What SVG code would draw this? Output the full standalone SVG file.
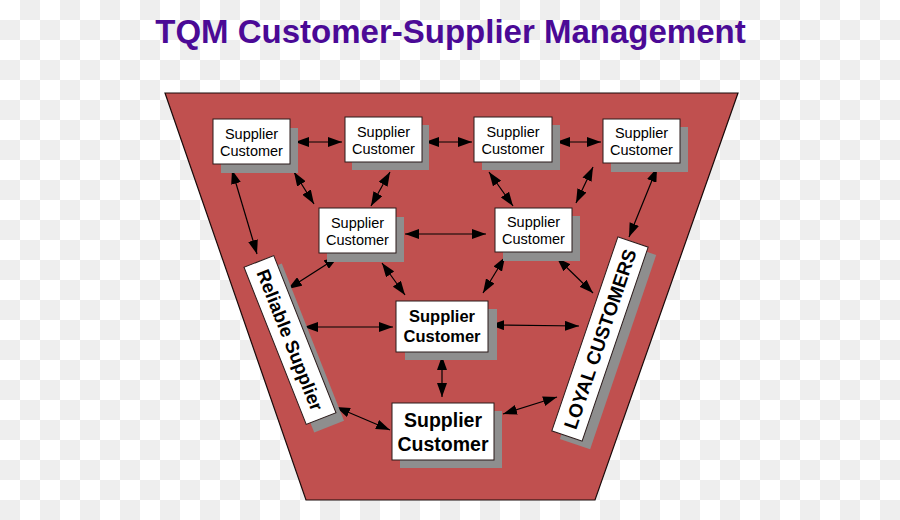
<svg xmlns="http://www.w3.org/2000/svg" width="900" height="520" viewBox="0 0 900 520">
<style>
.title{font-family:"Liberation Sans",Arial,sans-serif;font-weight:bold;font-size:33px;fill:#4b0a96}
.box{fill:#ffffff;stroke:#2a1a1a;stroke-width:1}
.shadow{fill:#8e8e8e}
.t1{font-family:"Liberation Sans",Arial,sans-serif;font-size:14.5px;fill:#000;text-anchor:middle}
.t2{font-family:"Liberation Sans",Arial,sans-serif;font-size:16.5px;font-weight:bold;fill:#000;text-anchor:middle}
.t3{font-family:"Liberation Sans",Arial,sans-serif;font-size:19.5px;font-weight:bold;fill:#000;text-anchor:middle}
.t4{font-family:"Liberation Sans",Arial,sans-serif;font-size:18.5px;font-weight:bold;fill:#000;text-anchor:middle}
.conn line{stroke:#000;stroke-width:1.2;marker-start:url(#ah);marker-end:url(#ah)}
</style>
<defs>
<pattern id="chk" width="40" height="40" patternUnits="userSpaceOnUse">
<rect width="40" height="40" fill="#ffffff"/>
<rect x="20" y="0" width="20" height="20" fill="#eeeeee"/>
<rect x="0" y="20" width="20" height="20" fill="#eeeeee"/>
</pattern>
<marker id="ah" viewBox="0 0 14 10" refX="14" refY="5" markerWidth="14" markerHeight="10" markerUnits="userSpaceOnUse" orient="auto-start-reverse">
<path d="M0,0 L14,5 L0,10 z" fill="#000"/>
</marker>
</defs>
<rect width="900" height="520" fill="url(#chk)"/>
<text class="title" x="450.5" y="43" text-anchor="middle">TQM Customer-Supplier Management</text>
<polygon id="funnel" points="165,93 738,93 595,500 306,500" fill="#c0504f" stroke="#1a0a0a" stroke-width="1.2"/>

<g id="connectors" class="conn">
<line x1="295" y1="142" x2="342" y2="142"/>
<line x1="425" y1="142" x2="472" y2="142"/>
<line x1="556" y1="142" x2="601" y2="142"/>
<line x1="232" y1="170" x2="257" y2="254"/>
<line x1="294" y1="172" x2="314" y2="204"/>
<line x1="390" y1="172" x2="371" y2="206"/>
<line x1="489" y1="172" x2="513" y2="206"/>
<line x1="593" y1="167" x2="576" y2="203"/>
<line x1="657" y1="168" x2="629" y2="237"/>
<line x1="405" y1="234" x2="486" y2="234"/>
<line x1="338" y1="257" x2="288" y2="289"/>
<line x1="382" y1="263" x2="405" y2="295"/>
<line x1="505" y1="257" x2="483" y2="293"/>
<line x1="557" y1="258" x2="593" y2="293"/>
<line x1="304" y1="327" x2="393" y2="327"/>
<line x1="490" y1="325" x2="579" y2="326"/>
<line x1="442" y1="356" x2="442" y2="397"/>
<line x1="336" y1="407" x2="390" y2="430"/>
<line x1="503" y1="414" x2="557" y2="397"/>
</g>

<g id="sc1">
<rect class="shadow" x="221" y="128" width="77" height="45"/>
<rect class="box" x="213" y="119" width="77" height="45"/>
<text class="t1" x="251.5" y="139">Supplier</text>
<text class="t1" x="251.5" y="156">Customer</text>
</g>
<g id="sc2">
<rect class="shadow" x="352" y="125" width="77" height="45"/>
<rect class="box" x="345" y="117" width="77" height="45"/>
<text class="t1" x="383.5" y="137">Supplier</text>
<text class="t1" x="383.5" y="154">Customer</text>
</g>
<g id="sc3">
<rect class="shadow" x="482" y="125" width="78" height="45"/>
<rect class="box" x="474" y="117" width="78" height="45"/>
<text class="t1" x="513" y="137">Supplier</text>
<text class="t1" x="513" y="154">Customer</text>
</g>
<g id="sc4">
<rect class="shadow" x="611" y="127" width="77" height="45"/>
<rect class="box" x="603" y="119" width="77" height="44"/>
<text class="t1" x="641.5" y="138">Supplier</text>
<text class="t1" x="641.5" y="155">Customer</text>
</g>
<g id="sc5">
<rect class="shadow" x="327" y="217" width="77" height="45"/>
<rect class="box" x="319" y="208" width="77" height="45"/>
<text class="t1" x="357.5" y="228">Supplier</text>
<text class="t1" x="357.5" y="245">Customer</text>
</g>
<g id="sc6">
<rect class="shadow" x="503" y="216" width="77" height="45"/>
<rect class="box" x="495" y="208" width="77" height="44"/>
<text class="t1" x="533.5" y="227">Supplier</text>
<text class="t1" x="533.5" y="244">Customer</text>
</g>
<g id="sc7">
<rect class="shadow" x="405" y="309" width="92" height="51"/>
<rect class="box" x="396" y="301" width="92" height="51"/>
<text class="t2" x="442" y="322">Supplier</text>
<text class="t2" x="442" y="342">Customer</text>
</g>
<g id="sc8">
<rect class="shadow" x="400" y="411" width="102" height="57"/>
<rect class="box" x="392" y="403" width="102" height="57"/>
<text class="t3" x="443" y="427">Supplier</text>
<text class="t3" x="443" y="451">Customer</text>
</g>
<g id="reliable" transform="translate(290,340) rotate(68.4)">
<rect class="shadow" x="-84.5" y="-16" width="169" height="32" transform="rotate(-68.4) translate(8,8) rotate(68.4)"/>
<rect class="box" x="-84.5" y="-16" width="169" height="32"/>
<text class="t4" x="0" y="6.5">Reliable Supplier</text>
</g>
<g id="loyal" transform="translate(600,339) rotate(-71.2)">
<rect class="shadow" x="-102.5" y="-16" width="205" height="32" transform="rotate(71.2) translate(8,8) rotate(-71.2)"/>
<rect class="box" x="-102.5" y="-16" width="205" height="32"/>
<text class="t4" x="0" y="6.8" style="font-size:19px">LOYAL CUSTOMERS</text>
</g>
</svg>
